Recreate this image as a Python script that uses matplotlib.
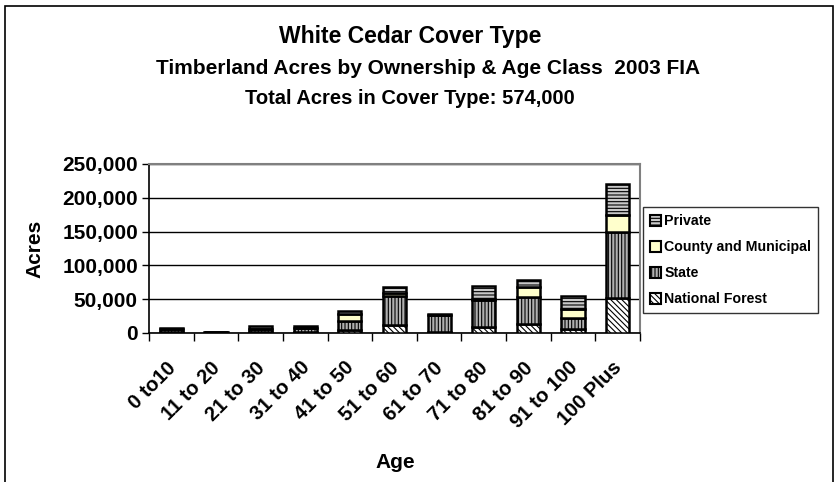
import numpy as np
import matplotlib
matplotlib.use("Agg")
import matplotlib.pyplot as plt
from matplotlib.patches import Patch, Rectangle
from matplotlib.ticker import FuncFormatter, MultipleLocator

plt.rcParams['font.family'] = ['Liberation Sans', 'DejaVu Sans']
plt.rcParams['hatch.linewidth'] = 0.8

ages = ["0 to10", "11 to 20", "21 to 30", "31 to 40", "41 to 50", "51 to 60",
        "61 to 70", "71 to 80", "81 to 90", "91 to 100", "100 Plus"]
national_forest = [1000, 300, 1000, 1000, 5000, 12000, 1000, 9000, 14000, 6000, 52000]
state = [5000, 1000, 5000, 6000, 13000, 42000, 25000, 40000, 39000, 16000, 97000]
county = [0, 0, 0, 0, 10000, 5000, 0, 1000, 15000, 14000, 25000]
private = [2000, 700, 4000, 4000, 5000, 9000, 2000, 19000, 11000, 18000, 46000]

series = [
    ("National Forest", national_forest, "white", "\\\\\\\\\\\\"),
    ("State", state, "#b0b0b0", "|||||"),
    ("County and Municipal", county, "#ffffcc", None),
    ("Private", private, "#c8c8c8", "-----"),
]

fig = plt.figure(figsize=(8.38, 4.82), dpi=100)
ax = fig.add_axes([149/838, 149/482, 491/838, 169/482])

x = np.arange(len(ages))
bottom = np.zeros(len(ages))
handles = []
for name, vals, color, hatch in series:
    vals = np.array(vals, dtype=float)
    ax.bar(x, vals, 0.52, bottom=bottom, color=color, edgecolor="black",
           linewidth=1.8, hatch=hatch, zorder=3)
    bottom += vals
    handles.append(Patch(facecolor=color, edgecolor="black", hatch=hatch, linewidth=1.5, label=name))

ax.set_xlim(-0.5, len(ages) - 0.5)
ax.set_ylim(0, 250000)
ax.yaxis.set_major_locator(MultipleLocator(50000))
ax.yaxis.set_major_formatter(FuncFormatter(lambda v, p: f"{int(v):,}"))
ax.grid(axis="y", color="black", linewidth=1.0, zorder=0)
for s in ["top", "right"]:
    ax.spines[s].set_color("#808080")
    ax.spines[s].set_linewidth(1.5)
ax.spines["left"].set_linewidth(1.2)
ax.spines["bottom"].set_linewidth(1.2)

ax.set_xticks(np.arange(len(ages) + 1) - 0.5, minor=False)
ax.set_xticklabels([])
ax.set_xticks(x - 0.12, minor=True)
ax.set_xticklabels(ages, minor=True, rotation=45, ha="right", va="top",
                   rotation_mode="anchor", fontsize=14.5, fontweight="bold")
ax.tick_params(axis="x", which="major", length=6, width=1, direction="out")
ax.tick_params(axis="x", which="minor", length=0, pad=18)
ax.tick_params(axis="y", length=5, width=1, labelsize=15, pad=3)
for lab in ax.get_yticklabels():
    lab.set_fontweight("bold")

ax.set_ylabel("Acres", fontsize=15, fontweight="bold", labelpad=13)
fig.text(395/838, 1 - 462/482, "Age", ha="center", va="center", fontsize=15, fontweight="bold")

fig.text(410/838, 1 - 37/482, "White Cedar Cover Type", ha="center", va="center",
         fontsize=16.5, fontweight="bold")
fig.text(428/838, 1 - 69/482, "Timberland Acres by Ownership & Age Class  2003 FIA",
         ha="center", va="center", fontsize=15, fontweight="bold")
fig.text(410/838, 1 - 99/482, "Total Acres in Cover Type: 574,000",
         ha="center", va="center", fontsize=14.5, fontweight="bold")

leg = fig.legend(handles=handles[::-1], loc="upper left",
                 bbox_to_anchor=(643/838, 1 - 207/482), borderaxespad=0, frameon=True,
                 fancybox=False, edgecolor="black", handlelength=0.8, handleheight=0.8,
                 handletextpad=0.2, borderpad=0.5, labelspacing=0.85,
                 prop={"size": 10.2, "weight": "bold"})
leg.get_frame().set_linewidth(1.0)

fig.patches.append(Rectangle((5/838, -0.05), 828/838, 1.05 - 6/482, transform=fig.transFigure,
                             fill=False, edgecolor="black", linewidth=1.2))

fig.savefig("out.png", dpi=100)
